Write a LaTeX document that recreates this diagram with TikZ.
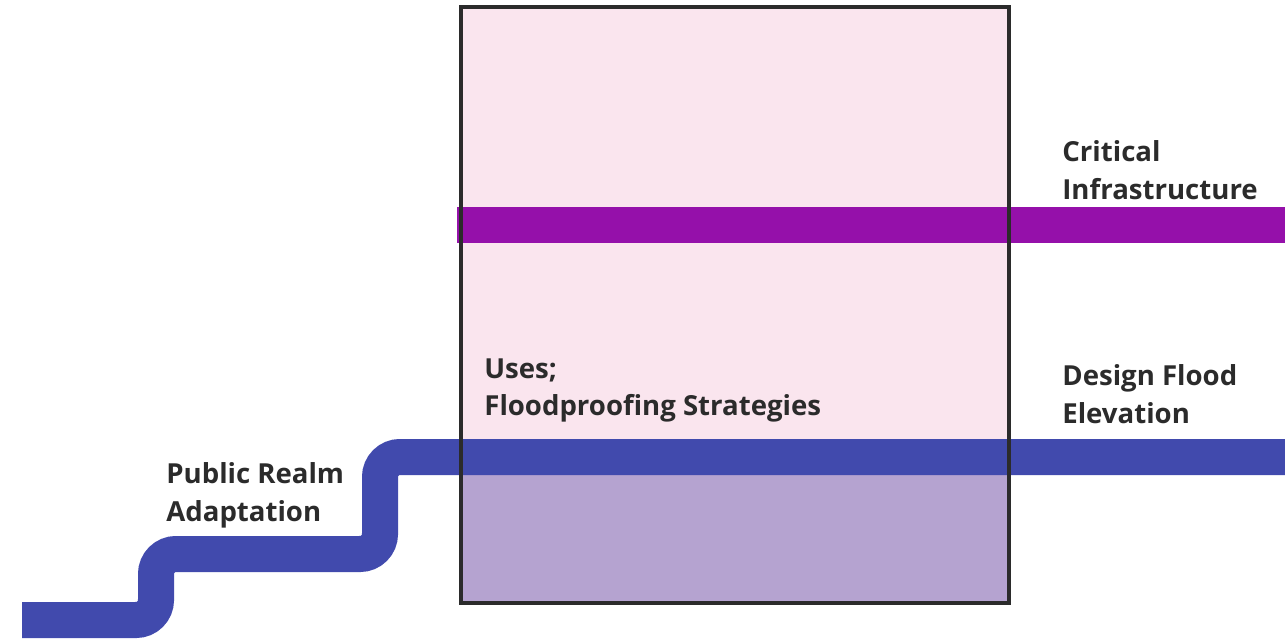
\documentclass[tikz,border=0pt]{standalone}
\usepackage{fontspec}
\setmainfont{Open Sans}
\definecolor{boxpink}{HTML}{FAE5EE}
\definecolor{wetlilac}{HTML}{B5A3D0}
\definecolor{floodblue}{HTML}{414AAD}
\definecolor{infrapurple}{HTML}{9510AA}
\definecolor{labelgray}{HTML}{2B2B2B}
\tikzset{
  band/.style={line width=36*0.02cm,line cap=butt},
  label/.style={anchor=north west,inner sep=0pt,align=left,text=labelgray,
    font=\fontsize{15.7}{21.5}\selectfont\bfseries}
}
\begin{document}
\begin{tikzpicture}[x=0.02cm,y=-0.02cm]
\useasboundingbox (0,0) rectangle (1285,639);
\coordinate (boxnw) at (461,7);
\coordinate (boxse) at (1009,603);
% Draw building
\fill[boxpink] (boxnw) rectangle (boxse);
\fill[wetlilac] (461,457) rectangle (boxse);
% Draw critical infrastructure line
\draw[band,infrapurple] (457,225) -- (1285,225);
% Draw flood elevation with public realm steps
\draw[band,floodblue,rounded corners=20*0.02cm] (22,620) -- (156,620) -- (156,554)
  -- (380,554) -- (380,457) -- (1285,457);
% Building outline
\draw[line width=3.5*0.02cm,labelgray] (boxnw) rectangle (boxse);
% Labels
\node[label] (critical) at (1062,140) {Critical\\Infrastructure};
\node[label] (dfe) at (1062,364) {Design Flood\\Elevation};
\node[label] (uses) at (484,358) {Uses;\\Floodproofing Strategies};
\node[label] (realm) at (166,462) {Public Realm\\Adaptation};
\end{tikzpicture}
\end{document}
